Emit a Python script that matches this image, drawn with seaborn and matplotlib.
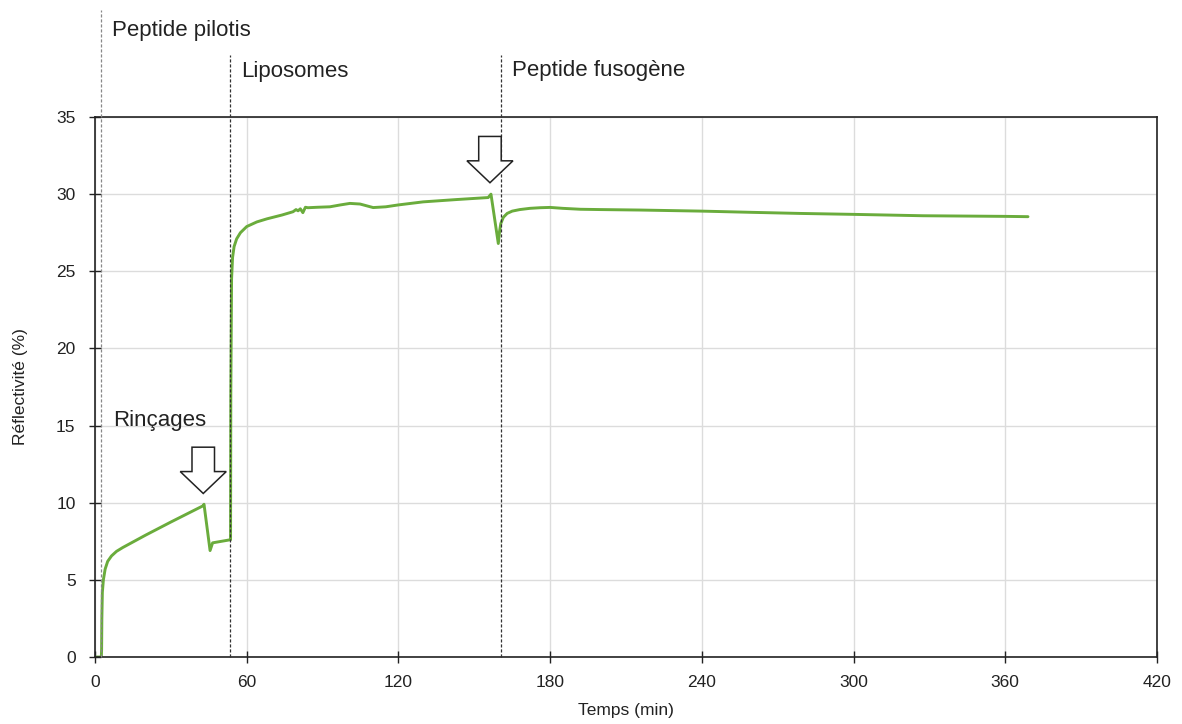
import pandas as pd
import seaborn as sns
import matplotlib.pyplot as plt
from matplotlib.patches import FancyArrow
import matplotlib.transforms as mtransforms

# données
temps = [0, 2.5, 2.6, 2.7, 2.9, 3.3, 4.0, 5.0, 6.5, 8.5, 11, 20, 30, 42.7, 43.1, 45.5, 46.5,
         50, 53.5, 53.6, 53.7, 54.0, 54.4, 55.0, 56.0, 57.5, 60, 64, 68, 74, 78.3, 79.5,
         80.3, 81.2, 82.2, 83.2, 84.2, 88, 92.9, 97, 100.8, 104.8, 110, 115, 119.9, 129.8,
         143, 155.5, 156.6, 159.5, 160.0, 160.5, 161.5, 163, 165, 168, 172, 176, 180, 185,
         192, 200, 215.5, 239.9, 260, 278.8, 299.8, 327.5, 359.8, 369]
reflectivite = [0, 0, 0.5, 2.5, 4.2, 5.0, 5.7, 6.2, 6.55, 6.85, 7.1, 7.9, 8.75, 9.8, 9.9, 6.9, 7.4,
                7.5, 7.6, 7.6, 17, 24.5, 25.9, 26.6, 27.1, 27.5, 27.9, 28.2, 28.4, 28.65, 28.86, 29.0,
                28.92, 29.05, 28.8, 29.15, 29.12, 29.15, 29.18, 29.3, 29.4, 29.36, 29.13, 29.18, 29.3, 29.5,
                29.65, 29.78, 30.0, 26.8, 27.6, 28.1, 28.5, 28.75, 28.9, 29.0, 29.08, 29.12, 29.14, 29.08,
                29.02, 29.0, 28.97, 28.9, 28.82, 28.75, 28.69, 28.6, 28.56, 28.54]

etapes = ['Peptide pilotis', 'Liposomes', 'Peptide fusogène']
debut_etapes = [2.4, 53.4, 160.5]
rincages_t = [42.8, 156.2]
rincages_r = [10.6, 30.74]

df = pd.DataFrame({'Temps': temps, 'R': reflectivite})

sns.set_theme(style='whitegrid')
plt.rcParams['font.family'] = ['Liberation Sans', 'DejaVu Sans']

fig = plt.figure(figsize=(11.82, 7.24), dpi=100)
ax = fig.add_axes([0.0804, 0.0925, 0.8984, 0.7459])

sns.lineplot(data=df, x='Temps', y='R', sort=False, estimator=None,
             color='#6aac3c', linewidth=2.1, ax=ax)

ax.set_xlim(0, 420)
ax.set_ylim(0, 35)
ax.set_xticks(range(0, 421, 60))
ax.set_yticks(range(0, 36, 5))
ax.grid(True, color='#dcdcdc', linewidth=1)
for s in ax.spines.values():
    s.set_color('#222222')
    s.set_linewidth(1.2)
ax.tick_params(bottom=True, left=True, direction='inout', length=8, width=1,
               color='#222222', labelsize=12.5, labelcolor='#222222')
ax.tick_params(axis='x', pad=9)
ax.tick_params(axis='y', pad=10)
ax.set_xlabel('Temps (min)', fontsize=12.5, color='#222222', labelpad=9)
ax.set_ylabel('Réflectivité (%)', fontsize=12.5, color='#222222', labelpad=20)

# lignes verticales des étapes + étiquettes
hauts = [1.198, 1.115, 1.115]
couleurs = ['#888888', '#333333', '#333333']
y_txt = [1.161, 1.085, 1.087]
trans = mtransforms.blended_transform_factory(ax.transData, ax.transAxes)
for x, h, c, lab, yt in zip(debut_etapes, hauts, couleurs, etapes, y_txt):
    ax.axvline(x, ymin=0, ymax=h, color=c, linestyle=(0, (2.5, 1.5)),
               linewidth=0.9, clip_on=False, zorder=3)
    ax.text(x + 4.5, yt, lab, transform=trans, fontsize=16, color='#222222',
            ha='left', va='center')

ax.text(7.1, 15.3, 'Rinçages', fontsize=16, color='#222222', ha='left', va='center')

# flèches des rinçages
for t, r in zip(rincages_t, rincages_r):
    ax.add_patch(FancyArrow(t, r + 3.0, 0, -3.0, width=8.9, head_width=18.2,
                            head_length=1.42, length_includes_head=True,
                            facecolor='white', edgecolor='#222222', linewidth=1.1,
                            zorder=4))

fig.savefig('out.png', dpi=100)
